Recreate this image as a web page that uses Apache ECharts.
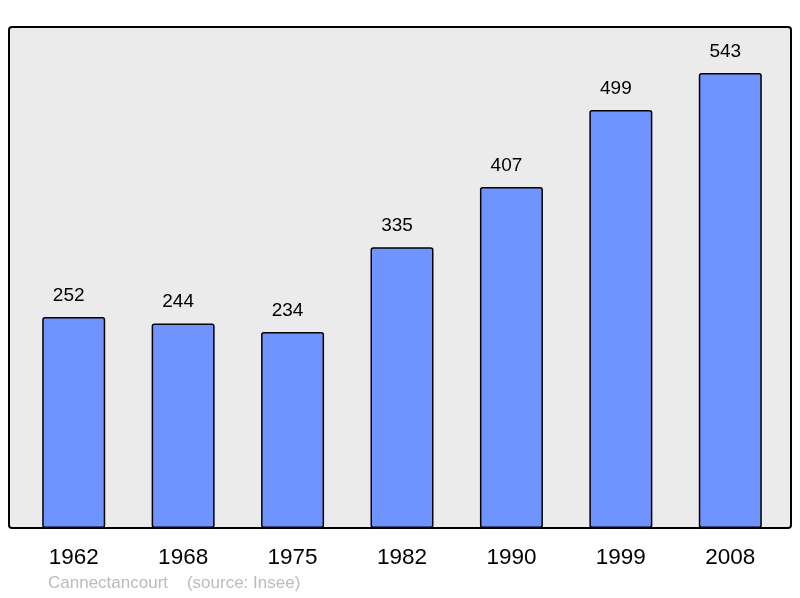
<!DOCTYPE html>
<html><head><meta charset="utf-8">
<script src="https://cdn.jsdelivr.net/npm/echarts@6/dist/echarts.min.js"></script>
<style>html,body{margin:0;padding:0;background:#fff}#c{width:800px;height:598px}</style>
</head><body><div id="c"></div>
<script>
const years = ['1962','1968','1975','1982','1990','1999','2008'];
const population = [252,244,234,335,407,499,543];
const footer = 'Cannectancourt    (source: Insee)';

const chart = echarts.init(document.getElementById('c'), null, {renderer:'canvas'});
chart.setOption({
  animation:false,
  backgroundColor:'#ffffff',
  graphic:[
    {type:'rect', z:0, shape:{x:9,y:27,width:782,height:501,r:3},
     style:{fill:'#ebebeb', stroke:'#000', lineWidth:2}},
    {type:'text', z:5, left:48, top:575,
     style:{text:footer, fill:'#bbbbbb', font:'17px "Liberation Sans", Arial, sans-serif'}}
  ],
  grid:{left:19, right:15, top:27, bottom:70},
  xAxis:{type:'category', data:years,
    axisLine:{show:false}, axisTick:{show:false},
    axisLabel:{color:'#000', fontSize:22.5, fontFamily:'Liberation Sans', margin:18}},
  yAxis:{type:'value', min:0, max:598, show:false, splitLine:{show:false}},
  series:[{type:'bar', data:population, barWidth:63,
    itemStyle:{color:'#7094ff', borderColor:'#000', borderWidth:1.5, borderRadius:2},
    label:{show:true, position:'top', distance:12, offset:[-5,0], color:'#000', fontSize:19, fontFamily:'Liberation Sans'}}]
});
</script></body></html>
